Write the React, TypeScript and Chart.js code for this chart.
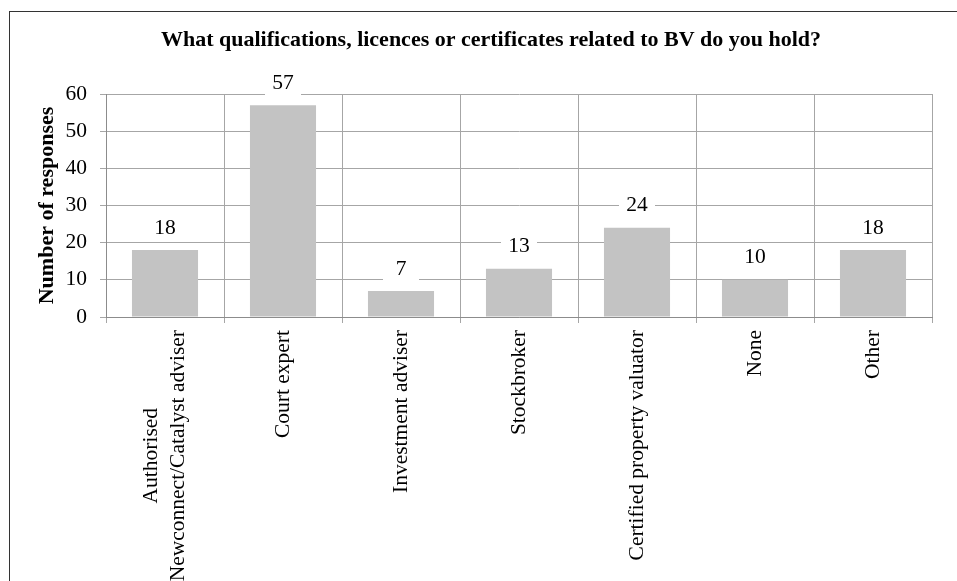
import { useEffect, useRef } from 'react';
import { Chart, registerables } from 'chart.js';

Chart.register(...registerables);

const chartTitle = 'What qualifications, licences or certificates related to BV do you hold?';
const yAxisTitle = 'Number of responses';
const categories: string[][] = [
  ['Authorised', 'Newconnect/Catalyst adviser'],
  ['Court expert'],
  ['Investment adviser'],
  ['Stockbroker'],
  ['Certified property valuator'],
  ['None'],
  ['Other'],
];
const responses = [18, 57, 7, 13, 24, 10, 18];
const yMin = 0;
const yMax = 60;
const yStep = 10;

const FONT = '"Liberation Serif", "Times New Roman", serif';
const FS = 21.5;
const FSB = 22;

const xLabelsPlugin = {
  id: 'xLabelsCustom',
  afterDraw(chart: any) {
    const xs = chart.scales.x;
    const ctx = chart.ctx;
    const y0 = xs.top + 6 + 7;
    ctx.save();
    ctx.font = `${FS}px ${FONT}`;
    ctx.fillStyle = '#000';
    categories.forEach((lines, i) => {
      const cx = xs.getPixelForValue(i);
      const maxW = Math.max(...lines.map((l) => ctx.measureText(l).width));
      const lineH = 27;
      const n = lines.length;
      lines.forEach((line, j) => {
        const off = (j - (n - 1) / 2) * lineH;
        ctx.save();
        ctx.translate(cx + off, y0);
        ctx.rotate(-Math.PI / 2);
        ctx.textAlign = 'center';
        ctx.textBaseline = 'middle';
        ctx.fillText(line, -maxW / 2, 0);
        ctx.restore();
      });
    });
    ctx.restore();
  },
};

const dataLabelsPlugin = {
  id: 'dataLabelsBoxed',
  afterDatasetsDraw(chart: any) {
    const ctx = chart.ctx;
    const meta = chart.getDatasetMeta(0);
    ctx.save();
    ctx.font = `${FS}px ${FONT}`;
    ctx.textAlign = 'center';
    ctx.textBaseline = 'middle';
    meta.data.forEach((bar: any, i: number) => {
      const cy = bar.y - 22;
      ctx.fillStyle = '#ffffff';
      ctx.fillRect(bar.x - 18, cy - 13, 36, 26);
      ctx.fillStyle = '#000';
      ctx.fillText(String(responses[i]), bar.x, cy);
    });
    ctx.restore();
  },
};

export default function App() {
  const ref = useRef<HTMLCanvasElement>(null);
  useEffect(() => {
    document.body.style.overflow = 'hidden';
    const chart = new Chart(ref.current!, {
      type: 'bar',
      data: {
        labels: categories.map((c) => c.join(' ')),
        datasets: [
          {
            data: responses,
            backgroundColor: '#c3c3c3',
            borderWidth: 0,
            barPercentage: 0.56,
            categoryPercentage: 1,
          },
        ],
      },
      options: {
        animation: false,
        responsive: false,
        layout: { padding: { left: 14, right: 14, top: 0, bottom: 329 } },
        plugins: {
          legend: { display: false },
          tooltip: { enabled: false },
          title: {
            display: true,
            text: chartTitle,
            color: '#000',
            font: { family: FONT, size: FSB, weight: 'bold' },
            padding: { top: 15, bottom: 40.6 },
          },
        },
        scales: {
          x: {
            grid: { color: '#a6a6a6', tickLength: 6, offset: true },
            border: { color: '#8c8c8c' },
            ticks: { display: false },
          },
          y: {
            min: yMin,
            max: yMax,
            ticks: {
              stepSize: yStep,
              color: '#000',
              padding: 13,
              font: { family: FONT, size: FS },
            },
            grid: { color: '#a6a6a6', tickLength: 6 },
            border: { color: '#8c8c8c' },
            title: {
              display: true,
              text: yAxisTitle,
              color: '#000',
              font: { family: FONT, size: FSB, weight: 'bold' },
              padding: { top: 10, bottom: 0 },
            },
            afterFit(scale: any) {
              scale.width = 82;
            },
          },
          ySpacer: {
            position: 'right',
            min: yMin,
            max: yMax,
            grid: { display: false, drawTicks: false },
            border: { display: false },
            ticks: { display: false },
            afterFit(scale: any) {
              scale.width = 26;
            },
          },
        },
      },
      plugins: [dataLabelsPlugin, xLabelsPlugin],
    });
    return () => chart.destroy();
  }, []);
  return (
    <div style={{ position: 'fixed', left: 0, top: 0, width: 957, height: 581, overflow: 'hidden', background: '#fff' }}>
      <div style={{ position: 'absolute', left: 9, top: 11, width: 962, height: 660, border: '1px solid #333' }}>
        <canvas ref={ref} width={962} height={640} style={{ display: 'block' }} />
      </div>
    </div>
  );
}
